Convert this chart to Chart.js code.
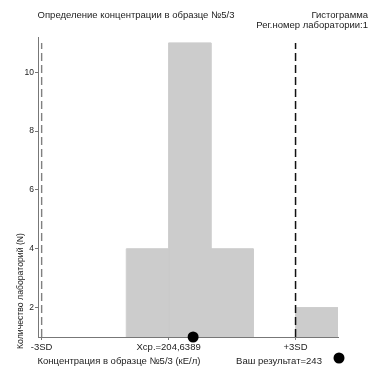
<!DOCTYPE html>
<html>
<head>
<meta charset="utf-8">
<script src="https://cdn.jsdelivr.net/npm/chart.js@4/dist/chart.umd.min.js"></script>
<style>
  html, body { margin: 0; padding: 0; background: #fff; }
  canvas { display: block; }
</style>
</head>
<body>
<canvas id="hist" width="369" height="368"></canvas>
<script>
// Histogram bins (concentration, кЕ/л) and number of laboratories in each
const binFrom = [138.3, 204.6, 270.9, 403.5];
const binTo = [204.6, 270.9, 337.2, 469.8];
const labCounts = [4, 11, 4, 2];

// Reference statistics and the laboratory's own result
const meanValue = 204.6389;
const minus3SD = 5.7;
const plus3SD = 403.5;
const yourResult = 243;

// Axis ticks
const xTickValues = [minus3SD, meanValue, plus3SD];
const xTickLabels = ['-3SD', 'Хср.=204,6389', '+3SD'];
const yTickValues = [2, 4, 6, 8, 10];

const FONT = 'Liberation Sans, Arial, sans-serif';
const TEXT = '#222';
const AXIS = '#777';
const BAR = '#cccccc';

const datasets = [];
// each bar is a closed rectangle from the axis base (y = 1) up to its count
labCounts.forEach((n, i) => {
  datasets.push({
    data: [
      { x: binFrom[i], y: 1 }, { x: binFrom[i], y: n },
      { x: binTo[i], y: n }, { x: binTo[i], y: 1 }
    ],
    backgroundColor: BAR,
    borderColor: BAR,
    borderWidth: 1,
    pointRadius: 0,
    fill: 'start',
    order: 3
  });
});
const sdTop = Math.max(...labCounts);
datasets.push({
  data: [{ x: minus3SD, y: 1 }, { x: minus3SD, y: sdTop }],
  borderColor: '#808080', borderWidth: 1.4, borderDash: [8, 4],
  pointRadius: 0, fill: false, order: 2
});
datasets.push({
  data: [{ x: plus3SD, y: 1 }, { x: plus3SD, y: sdTop }],
  borderColor: '#111', borderWidth: 1.5, borderDash: [8, 4],
  pointRadius: 0, fill: false, order: 2
});
datasets.push({
  data: [{ x: yourResult, y: 1 }],
  showLine: false,
  pointRadius: 5.5, pointBackgroundColor: '#000', pointBorderWidth: 0,
  clip: false, order: 1
});

// Titles, axis captions and the result marker
const captions = {
  id: 'captions',
  afterDraw(chart) {
    const ctx = chart.ctx;
    ctx.save();
    ctx.fillStyle = TEXT;
    ctx.font = '9.5px ' + FONT;
    ctx.textBaseline = 'middle';
    ctx.textAlign = 'center';
    ctx.fillText('Определение концентрации в образце №5/3', 136, 15);
    ctx.textAlign = 'right';
    ctx.fillText('Гистограмма', 368, 15);
    ctx.fillText('Рег.номер лаборатории:1', 368, 25);
    ctx.textAlign = 'center';
    ctx.fillText('Концентрация в образце №5/3 (кЕ/л)', 119, 361);
    ctx.fillText('Ваш результат=' + yourResult, 279, 361);
    ctx.beginPath();
    ctx.arc(339, 358, 5.5, 0, Math.PI * 2);
    ctx.fillStyle = '#000';
    ctx.fill();
    ctx.translate(21, 291);
    ctx.rotate(-Math.PI / 2);
    ctx.fillStyle = TEXT;
    ctx.font = '8.7px ' + FONT;
    ctx.fillText('Количество лабораторий (N)', 0, 0);
    ctx.restore();
  }
};

new Chart(document.getElementById('hist'), {
  type: 'line',
  data: { datasets },
  options: {
    responsive: false,
    animation: false,
    layout: { padding: { top: 37, right: 31, left: 0, bottom: 0 } },
    plugins: { legend: { display: false }, tooltip: { enabled: false } },
    scales: {
      x: {
        type: 'linear',
        min: 0,
        max: 470,
        afterFit(s) { s.height = 31; },
        afterBuildTicks(s) { s.ticks = xTickValues.map(v => ({ value: v })); },
        grid: { drawOnChartArea: false, drawTicks: true, tickLength: 3, color: AXIS },
        border: { color: AXIS, width: 1 },
        ticks: {
          autoSkip: false, maxRotation: 0, padding: 2,
          color: TEXT, font: { family: FONT, size: 9.5 },
          callback: (v, i) => xTickLabels[i]
        }
      },
      y: {
        type: 'linear',
        min: 1,
        max: 11.2,
        afterFit(s) { s.width = 38; },
        afterBuildTicks(s) { s.ticks = yTickValues.map(v => ({ value: v })); },
        grid: { drawOnChartArea: false, drawTicks: true, tickLength: 3, color: AXIS },
        border: { color: AXIS, width: 1 },
        ticks: {
          padding: 1, color: TEXT, font: { family: FONT, size: 8.5 },
          callback: v => String(v)
        }
      }
    }
  },
  plugins: [captions]
});
</script>
</body>
</html>
